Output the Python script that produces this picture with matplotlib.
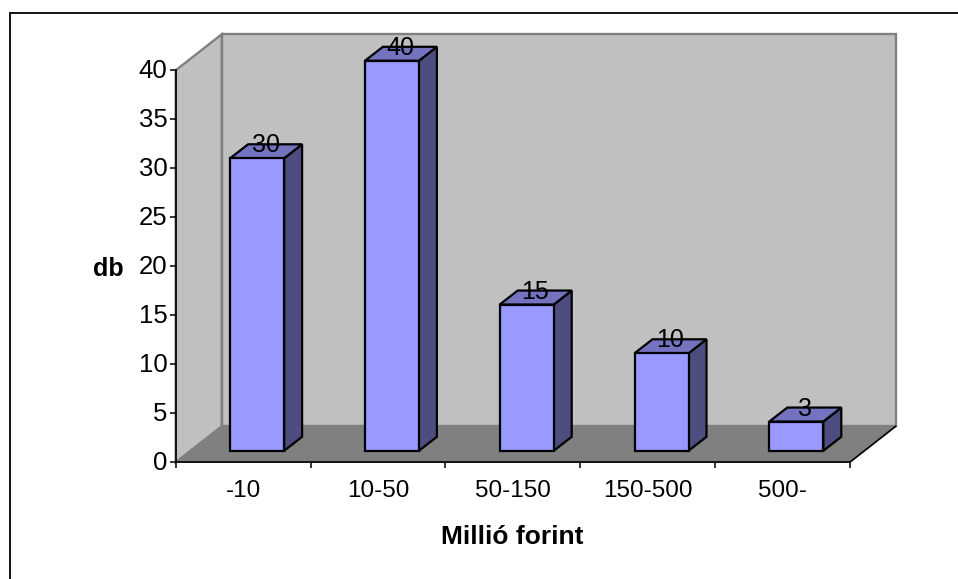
import matplotlib
matplotlib.use("Agg")
import matplotlib.pyplot as plt
from matplotlib.patches import Polygon, Rectangle
from matplotlib.transforms import ScaledTranslation

categories = ["-10", "10-50", "50-150", "150-500", "500-"]
values = [30, 40, 15, 10, 3]
yticks = [0, 5, 10, 15, 20, 25, 30, 35, 40]
xlabel = "Millió forint"
ylabel = "db"

W, H = 958, 579
plt.rcParams['font.family'] = ['Liberation Sans', 'DejaVu Sans']
fig = plt.figure(figsize=(W / 100, H / 100), dpi=100, facecolor="white")

L, R, T, B = 175.7, 849.7, 70.3, 462.3
ax = fig.add_axes([L / W, 1 - B / H, (R - L) / W, (B - T) / H])
ax.set_xlim(0, 5)
ax.set_ylim(0, 40)
ax.patch.set_visible(False)
for s in ("top", "right"):
    ax.spines[s].set_visible(False)
for s in ("left", "bottom"):
    ax.spines[s].set_linewidth(1.2)
    ax.spines[s].set_zorder(5)

px = 5 / (R - L)
py = 40 / (B - T)
dx, dy = 46 * px, 36 * py

wall = "#C0C0C0"
edge = "#808080"
ax.add_patch(Polygon([(dx, dy), (5 + dx, dy), (5 + dx, 40 + dy), (dx, 40 + dy)],
                     fc=wall, ec=edge, lw=1.7, clip_on=False, zorder=1))
ax.add_patch(Polygon([(0, 0), (dx, dy), (dx, 40 + dy), (0, 40)],
                     fc=wall, ec=edge, lw=1.7, clip_on=False, zorder=1))
ax.add_patch(Polygon([(0, 0), (5, 0), (5 + dx, dy), (dx, dy)],
                     fc="#808080", ec="#808080", lw=1, clip_on=False, zorder=2))
ax.plot([5, 5 + dx], [0, dy], color="black", lw=1.2, clip_on=False, zorder=3)

bw = 54 * px
off_x, base = 14 * px, 11.5 * py
bdx, bdy = 18 * px, 14 * py
front, top_c, side_c = "#9999FF", "#7373BF", "#4D4D80"
for i, v in enumerate(values):
    x0 = i + 0.5 - bw / 2 + off_x
    x1 = x0 + bw
    y0 = base
    y1 = base + v * (390 / 40) * py
    kw = dict(ec="black", lw=1.6, joinstyle="miter", clip_on=False, zorder=4)
    ax.add_patch(Polygon([(x1, y0), (x1 + bdx, y0 + bdy), (x1 + bdx, y1 + bdy), (x1, y1)], fc=side_c, **kw))
    ax.add_patch(Polygon([(x0, y1), (x1, y1), (x1 + bdx, y1 + bdy), (x0 + bdx, y1 + bdy)], fc=top_c, **kw))
    ax.add_patch(Rectangle((x0, y0), bw, y1 - y0, fc=front, **kw))
    ax.text(i + 0.5 + 22.5 * px, y1 + 13 * py, str(v), ha="center", va="center", fontsize=18,
            color="black", zorder=6, clip_on=False)

ax.set_yticks(yticks)
ax.set_xticks(range(6))
ax.set_xticklabels([])
ax.tick_params(axis="both", length=4, width=1.1, pad=2)
ax.tick_params(axis="y", labelsize=18.5)
shift = ScaledTranslation(0, 1.5 / 100, fig.dpi_scale_trans)
for lab in ax.get_yticklabels():
    lab.set_transform(lab.get_transform() + shift)
for i, c in enumerate(categories):
    ax.text(i + 0.5, -28.5 * py, c, ha="center", va="center", fontsize=17.5, clip_on=False)

ax.text(2.5, -74.5 * py, xlabel, ha="center", va="center", fontsize=19,
        fontweight="bold", clip_on=False)
ax.text(-67.5 * px, 20 - 2.5 * py, ylabel, ha="center", va="center", fontsize=18,
        fontweight="bold", clip_on=False)

fig.add_artist(Rectangle((9.5 / W, -0.02), 2, 1 - 12.5 / H + 0.02, transform=fig.transFigure,
                         fc="none", ec="black", lw=1.3))

fig.savefig("out.png", dpi=100)
